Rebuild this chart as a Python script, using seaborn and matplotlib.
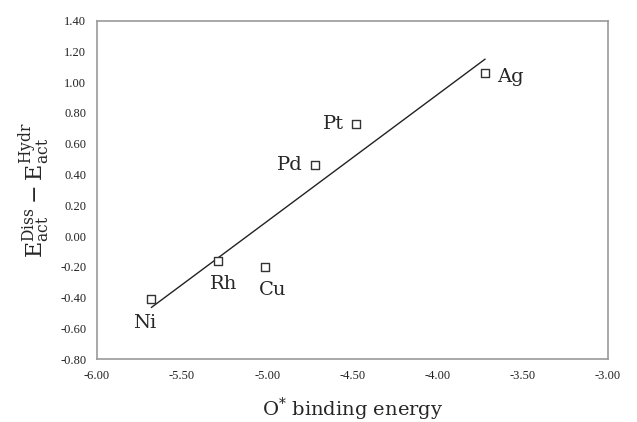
import numpy as np
import pandas as pd
import matplotlib
matplotlib.use("Agg")
import matplotlib.pyplot as plt
import seaborn as sns

metals = ["Ni", "Rh", "Cu", "Pd", "Pt", "Ag"]
o_binding = [-5.68, -5.29, -5.01, -4.72, -4.48, -3.72]
e_diff = [-0.41, -0.16, -0.20, 0.46, 0.73, 1.06]

df = pd.DataFrame({"metal": metals, "x": o_binding, "y": e_diff})

sns.set_style("white")
plt.rcParams["mathtext.fontset"] = "dejavuserif"

fig, ax = plt.subplots(figsize=(6.37, 4.22), dpi=100)
fig.subplots_adjust(left=0.152, right=0.954, bottom=0.149, top=0.951)

sns.regplot(data=df, x="x", y="y", scatter=False, ci=None, ax=ax,
            line_kws={"color": "#222222", "lw": 1.0})
sns.scatterplot(data=df, x="x", y="y", marker="s", s=38, facecolor="white",
                edgecolor="#333333", linewidth=1.0, ax=ax, zorder=3)

# label offsets in points (dx, dy, ha)
offsets = {"Ni": (-4.5, -17, "center"), "Rh": (4.3, -17, "center"),
           "Cu": (5, -17, "center"), "Pd": (-8.6, 0, "right"),
           "Pt": (-8.6, 0, "right"), "Ag": (8.6, -3, "left")}
for m, xv, yv in zip(metals, o_binding, e_diff):
    dx, dy, ha = offsets[m]
    ax.annotate(m, (xv, yv), xytext=(dx, dy), textcoords="offset points",
                ha=ha, va="center", fontsize=14, family="DejaVu Serif")

ax.set_xlim(-6.0, -3.0)
ax.set_ylim(-0.8, 1.4)
ax.set_xticks(np.arange(-6.0, -2.99, 0.5))
ax.set_yticks(np.arange(-0.8, 1.41, 0.2))
ax.set_xticklabels([f"{v:.2f}" for v in np.arange(-6.0, -2.99, 0.5)],
                   family="Liberation Serif", fontsize=9)
ax.set_yticklabels([f"{v:.2f}" if abs(v) > 1e-9 else "0.00"
                    for v in np.arange(-0.8, 1.41, 0.2)],
                   family="Liberation Serif", fontsize=9)
ax.tick_params(direction="inout", length=7, width=1, color="#999999",
               pad=4, labelcolor="#222222")
for sp in ax.spines.values():
    sp.set_color("#999999")
    sp.set_linewidth(1.2)

ax.set_xlabel(r"O$^{*}$ binding energy", fontsize=14, family="DejaVu Serif",
              labelpad=10)
ax.set_ylabel(r"$\mathrm{E_{act}^{Diss}}-\mathrm{E_{act}^{Hydr}}$",
              fontsize=16, labelpad=6)

plt.savefig("out.png", dpi=100)
